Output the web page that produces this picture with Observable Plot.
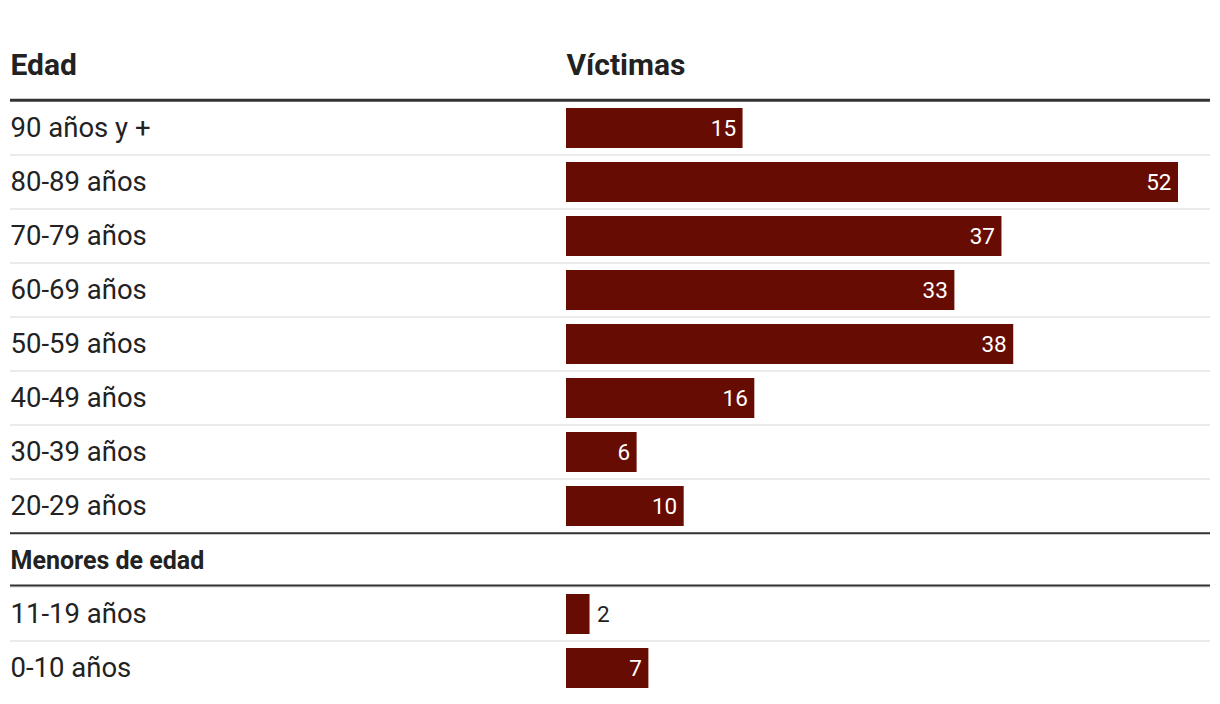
<!DOCTYPE html>
<html>
<head>
<meta charset="utf-8">
<script src="https://cdn.jsdelivr.net/npm/d3@7"></script>
<script src="https://cdn.jsdelivr.net/npm/@observablehq/plot@0.6"></script>
<style>
  html, body { margin: 0; padding: 0; background: #fff; }
  #chart svg { display: block; }
</style>
</head>
<body>
<div id="chart"></div>
<script>
const headers = ["Edad", "Víctimas"];
const adultAges = ["90 años y +", "80-89 años", "70-79 años", "60-69 años", "50-59 años", "40-49 años", "30-39 años", "20-29 años"];
const adultVictims = [15, 52, 37, 33, 38, 16, 6, 10];
const groupLabel = "Menores de edad";
const minorAges = ["11-19 años", "0-10 años"];
const minorVictims = [2, 7];

const rows = [
  ...adultAges.map((age, i) => ({age, v: adultVictims[i]})),
  ...minorAges.map((age, i) => ({age, v: minorVictims[i]}))
];
const domain = [...adultAges, groupLabel, ...minorAges];
const ageLabels = [...adultAges, ...minorAges];
const barColor = "#670c02";
const ink = "#222";

const chart = Plot.plot({
  width: 1220,
  height: 704,
  marginTop: 101,
  marginBottom: 9,
  marginLeft: 566,
  marginRight: 42,
  x: {domain: [0, 52], axis: null},
  y: {domain, axis: null, padding: 0},
  style: {fontFamily: "Roboto, 'Noto Sans', sans-serif", background: "#fff"},
  marks: [
    // light row separators
    Plot.ruleY(domain.slice(0, -1), {y: d => d, stroke: "#ebebeb", strokeWidth: 2, dy: 26.5, insetLeft: -556, insetRight: -32}),
    // thick header rule
    Plot.ruleY([adultAges[0]], {y: d => d, stroke: "#333", strokeWidth: 3, dy: -28.2, insetLeft: -556, insetRight: -32}),
    // group rules
    Plot.ruleY([groupLabel], {y: d => d, stroke: "#333", strokeWidth: 2, dy: -27.3, insetLeft: -556, insetRight: -32}),
    Plot.ruleY([groupLabel], {y: d => d, stroke: "#333", strokeWidth: 2, dy: 25, insetLeft: -556, insetRight: -32}),
    Plot.barX(rows, {x: "v", y: "age", fill: barColor, insetTop: 7, insetBottom: 7}),
    Plot.text(rows.filter(d => d.v >= 3), {x: "v", y: "age", text: d => String(d.v), textAnchor: "end", dx: -7, fill: "#fff", fontSize: 22.5}),
    Plot.text(rows.filter(d => d.v < 3), {x: "v", y: "age", text: d => String(d.v), textAnchor: "start", dx: 7, fill: ink, fontSize: 22.5}),
    // row labels
    Plot.text(ageLabels, {y: d => d, text: d => d, frameAnchor: "left", textAnchor: "start", dx: -556, fill: ink, fontSize: 27.5}),
    Plot.text([groupLabel], {y: d => d, text: d => d, frameAnchor: "left", textAnchor: "start", dx: -556, fill: ink, fontSize: 25, fontWeight: "bold"}),
    // headers
    Plot.text([headers[0]], {text: d => d, frameAnchor: "top-left", textAnchor: "start", lineAnchor: "bottom", dx: -556, dy: -27, fill: ink, fontSize: 30, fontWeight: "bold"}),
    Plot.text([headers[1]], {text: d => d, frameAnchor: "top-left", textAnchor: "start", lineAnchor: "bottom", dy: -27, fill: ink, fontSize: 30, fontWeight: "bold"})
  ]
});
document.getElementById("chart").appendChild(chart);
</script>
</body>
</html>
